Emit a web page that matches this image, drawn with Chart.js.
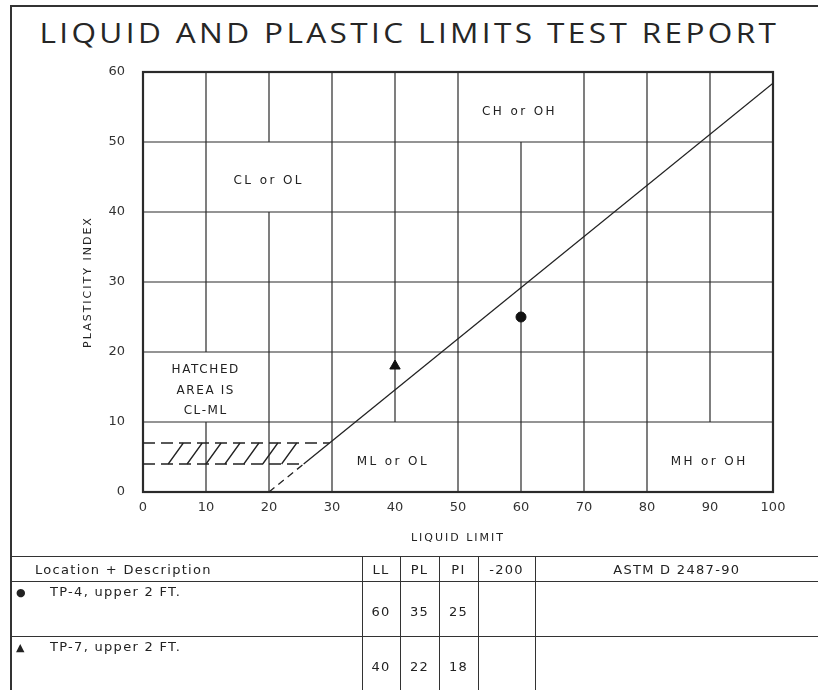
<!DOCTYPE html>
<html>
<head>
<meta charset="utf-8">
<title>Liquid and Plastic Limits Test Report</title>
<script src="https://cdn.jsdelivr.net/npm/chart.js@4.4.1/dist/chart.umd.min.js"></script>
<style>
  html, body { margin: 0; padding: 0; background: #fff; }
  #page { position: relative; width: 818px; height: 690px; overflow: hidden; font-family: 'DejaVu Sans', sans-serif; color: #222; }
  #frame { position: absolute; left: 10px; top: 5px; right: -4px; bottom: -4px; border-left: 2px solid #333; border-top: 2px solid #333; }
  #title { position: absolute; left: 0; top: 13px; width: 818px; line-height: normal; text-align: center; font-size: 28px; font-weight: 400; color: #262626; white-space: nowrap; font-family: 'Open Sans', 'DejaVu Sans', sans-serif; }
  #title span { display: inline-block; letter-spacing: 3px; transform-origin: 50% 50%; }
  #chart { position: absolute; left: 0; top: 0; }
  #report { position: absolute; left: 12px; top: 556px; width: 806px; border-collapse: collapse; table-layout: fixed; font-size: 13px; letter-spacing: 1.3px; color: #222; }
  #report th, #report td { border: 1.5px solid #333; padding: 0; font-weight: normal; white-space: nowrap; }
  #report tr > :first-child { border-left: none; }
  #report tr > :last-child { border-right: none; }
  #report tr:last-child td { border-bottom: none; }
  #report th { height: 24px; text-align: center; }
  #report th.loc { text-align: left; padding-left: 23px; }
  #report td { height: 32px; vertical-align: top; text-align: center; padding-top: 22px; }
  #report td.loc { text-align: left; padding-top: 2px; height: 52px; padding-left: 4px; }
  #report td.loc .mk { display: inline-block; width: 34px; font-size: 11px; }
</style>
</head>
<body>
<div id="page">
  <div id="frame"></div>
  <div id="title">LIQUID AND PLASTIC LIMITS TEST REPORT</div>
  <canvas id="chart" width="818" height="690"></canvas>
  <table id="report">
    <colgroup>
      <col style="width:350px"><col style="width:38px"><col style="width:39px"><col style="width:39px"><col style="width:57px"><col>
    </colgroup>
    <thead>
      <tr><th class="loc">Location + Description</th><th>LL</th><th>PL</th><th>PI</th><th>-200</th><th>ASTM D 2487-90</th></tr>
    </thead>
    <tbody id="rows"></tbody>
  </table>
</div>
<script>
// axis ticks
const llTicks = [0, 10, 20, 30, 40, 50, 60, 70, 80, 90, 100];
const piTicks = [0, 10, 20, 30, 40, 50, 60];

// A-line (solid part and dashed part below PI 4)
const aLineLL = [25.5, 100];
const aLinePI = [4, 58.4];
const aLineDashLL = [20, 25.5];
const aLineDashPI = [0, 4];

// CL-ML hatched band
const bandTopLL = [0, 29.6];
const bandTopPI = [7, 7];
const bandBottomLL = [0, 25.5];
const bandBottomPI = [4, 4];
const hatchStartLL = [4, 7, 10, 13, 16, 19, 22];
const hatchEndLL = [6.4, 9.4, 12.4, 15.4, 18.4, 21.4, 24.4];

// samples
const sampleNames = ['TP-4, upper 2 FT.', 'TP-7, upper 2 FT.'];
const sampleLL = [60, 40];
const samplePL = [35, 22];
const samplePI = [25, 18];
const sampleMarks = ['circle', 'triangle'];
const sampleGlyphs = ['\u25CF', '\u25B2'];

// zone labels
const zoneLabels = ['CH or OH', 'CL or OL', 'ML or OL', 'MH or OH'];
const zoneLL = [59.6, 19.8, 39.5, 89.7];
const zonePI = [54.3, 44.4, 4.3, 4.3];
const noteLines = ['HATCHED', 'AREA IS', 'CL-ML'];
const noteLL = [9.8, 9.8, 9.8];
const notePI = [17.5, 14.5, 11.6];

// grid lines left out behind the zone labels
const gapLL = [60, 20, 10, 40, 90];
const gapFrom = [50, 40, 10, 0, 0];
const gapTo = [60, 50, 20, 10, 10];

function pts(xs, ys) {
  return xs.map((x, i) => ({ x, y: ys[i] }));
}

// hatch strokes, broken apart with null points
const hatchData = [];
hatchStartLL.forEach((s, i) => {
  hatchData.push({ x: s, y: 4 });
  hatchData.push({ x: hatchEndLL[i], y: 7 });
  hatchData.push({ x: hatchEndLL[i], y: null });
});

// title widened to its width in the scan
const title = document.getElementById('title');
const span = document.createElement('span');
span.textContent = title.textContent;
title.textContent = '';
title.appendChild(span);
const w = span.getBoundingClientRect().width;
span.style.transform = 'scaleX(' + (740 / w) + ')';

// table rows
const rows = document.getElementById('rows');
sampleNames.forEach((name, i) => {
  const tr = document.createElement('tr');
  tr.innerHTML =
    '<td class="loc"><span class="mk">' + sampleGlyphs[i] + '</span>' + name + '</td>' +
    '<td>' + sampleLL[i] + '</td><td>' + samplePL[i] + '</td><td>' + samplePI[i] + '</td><td></td><td></td>';
  rows.appendChild(tr);
});

const ink = '#222';

const soilGrid = {
  id: 'soilGrid',
  beforeDatasetsDraw(chart) {
    const { ctx, chartArea: a, scales: { x, y } } = chart;
    ctx.save();
    ctx.strokeStyle = '#2a2a2a';
    ctx.lineWidth = 1.2;
    ctx.beginPath();
    piTicks.slice(1, -1).forEach(v => {
      const py = y.getPixelForValue(v);
      ctx.moveTo(a.left, py);
      ctx.lineTo(a.right, py);
    });
    llTicks.slice(1, -1).forEach(v => {
      const px = x.getPixelForValue(v);
      const gaps = [];
      gapLL.forEach((g, i) => { if (g === v) gaps.push([gapFrom[i], gapTo[i]]); });
      gaps.sort((p, q) => p[0] - q[0]);
      let cur = piTicks[0];
      gaps.forEach(([lo, hi]) => {
        if (lo > cur) {
          ctx.moveTo(px, y.getPixelForValue(cur));
          ctx.lineTo(px, y.getPixelForValue(lo));
        }
        cur = hi;
      });
      const top = piTicks[piTicks.length - 1];
      if (cur < top) {
        ctx.moveTo(px, y.getPixelForValue(cur));
        ctx.lineTo(px, y.getPixelForValue(top));
      }
    });
    ctx.stroke();
    ctx.lineWidth = 2.2;
    ctx.strokeRect(a.left, a.top, a.right - a.left, a.bottom - a.top);
    ctx.restore();
  },
  afterDatasetsDraw(chart) {
    const { ctx, chartArea: a, scales: { x, y } } = chart;
    ctx.save();
    ctx.fillStyle = ink;
    ctx.textAlign = 'center';
    ctx.textBaseline = 'middle';
    ctx.font = '12px "DejaVu Sans"';
    ctx.letterSpacing = '2.4px';
    zoneLabels.forEach((t, i) => {
      ctx.fillText(t, x.getPixelForValue(zoneLL[i]) + 1, y.getPixelForValue(zonePI[i]));
    });
    ctx.letterSpacing = '1.6px';
    noteLines.forEach((t, i) => {
      ctx.fillText(t, x.getPixelForValue(noteLL[i]) + 1, y.getPixelForValue(notePI[i]));
    });
    // axis titles
    ctx.font = '11px "DejaVu Sans"';
    ctx.letterSpacing = '2px';
    ctx.fillText('LIQUID LIMIT', (a.left + a.right) / 2, 538);
    ctx.translate(88, (a.top + a.bottom) / 2);
    ctx.rotate(-Math.PI / 2);
    ctx.fillText('PLASTICITY INDEX', 0, 0);
    ctx.restore();
  }
};

const lineStyle = { showLine: true, pointRadius: 0, borderColor: ink, borderWidth: 1.3, fill: false };

new Chart(document.getElementById('chart'), {
  type: 'scatter',
  data: {
    datasets: [
      { label: 'A-line', data: pts(aLineLL, aLinePI), ...lineStyle },
      { label: 'A-line below', data: pts(aLineDashLL, aLineDashPI), ...lineStyle, borderDash: [7, 5] },
      { label: 'PI 7', data: pts(bandTopLL, bandTopPI), ...lineStyle, borderDash: [12, 6] },
      { label: 'PI 4', data: pts(bandBottomLL, bandBottomPI), ...lineStyle, borderDash: [12, 6] },
      { label: 'hatch', data: hatchData, ...lineStyle, spanGaps: false },
      {
        label: sampleNames[0], data: [{ x: sampleLL[0], y: samplePI[0] }],
        pointStyle: sampleMarks[0], pointRadius: 5, backgroundColor: '#111', borderColor: '#111'
      },
      {
        label: sampleNames[1], data: [{ x: sampleLL[1], y: samplePI[1] }],
        pointStyle: sampleMarks[1], pointRadius: 6, backgroundColor: '#111', borderColor: '#111'
      }
    ]
  },
  options: {
    responsive: false,
    animation: false,
    devicePixelRatio: 1,
    layout: { padding: { left: 83, right: 45, top: 72, bottom: 138 } },
    plugins: { legend: { display: false }, tooltip: { enabled: false }, title: { display: false } },
    scales: {
      x: {
        type: 'linear', min: 0, max: 100,
        grid: { display: false, drawTicks: false },
        border: { display: false },
        ticks: { stepSize: 10, padding: 8, color: '#333', font: { family: 'DejaVu Sans', size: 13 }, maxRotation: 0 },
        afterFit(scale) { scale.height = 60; }
      },
      y: {
        type: 'linear', min: 0, max: 60,
        grid: { display: false, drawTicks: false },
        border: { display: false },
        ticks: { stepSize: 10, padding: 18, color: '#333', font: { family: 'DejaVu Sans', size: 13 } },
        afterFit(scale) { scale.width = 60; }
      }
    }
  },
  plugins: [soilGrid]
});
</script>
</body>
</html>
